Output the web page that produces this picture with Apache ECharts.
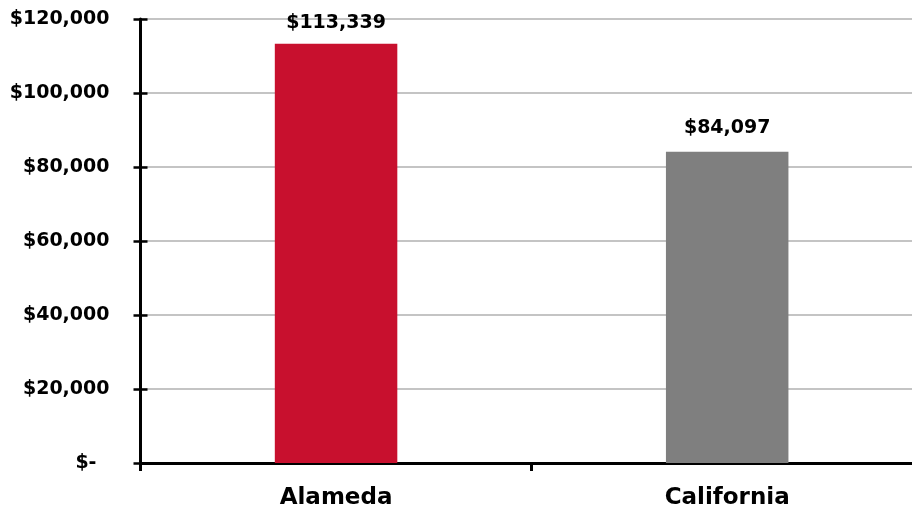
<!DOCTYPE html>
<html>
<head>
<meta charset="utf-8">
<script src="https://cdn.jsdelivr.net/npm/echarts@6/dist/echarts.min.js"></script>
<style>
  html, body { margin: 0; padding: 0; background: #ffffff; overflow: hidden; }
  /* the plot runs slightly past the right edge of the window */
  #chart { width: 923px; height: 513px; }
</style>
</head>
<body>
<div id="chart"></div>
<script>
// Median household income by area
const categories = ['Alameda', 'California'];
const incomeValues = [113339, 84097];
const barColors = ['#C8102E', '#7F7F7F'];
const labelGaps = [11, 14];

const yMin = 0;
const yMax = 120000;
const yStep = 20000;

const fontFamily = '"DejaVu Sans", "Liberation Sans", sans-serif';

function money(v) {
  return '$' + v.toLocaleString('en-US');
}

const chart = echarts.init(document.getElementById('chart'), null, { renderer: 'canvas' });

const barData = incomeValues.map((v, i) => ({
  value: v,
  itemStyle: { color: barColors[i] },
  label: { distance: labelGaps[i] }
}));

chart.setOption({
  backgroundColor: '#ffffff',
  animation: false,
  grid: { left: 140.5, right: 0.25, top: 19, bottom: 50, containLabel: false },
  xAxis: {
    type: 'category',
    data: categories,
    boundaryGap: true,
    axisLine: { show: true, lineStyle: { color: '#000000', width: 3 } },
    axisTick: { show: true, length: 8, lineStyle: { color: '#000000', width: 3 } },
    axisLabel: {
      margin: 24,
      color: '#000000',
      fontFamily: fontFamily,
      fontWeight: 'bold',
      fontSize: 23
    },
    splitLine: { show: false }
  },
  yAxis: [
    {
      type: 'value',
      min: yMin,
      max: yMax,
      interval: yStep,
      axisLine: { show: true, lineStyle: { color: '#000000', width: 3 } },
      axisTick: { show: true, inside: false, length: 7, lineStyle: { color: '#000000', width: 2.5 } },
      axisLabel: {
        margin: 31,
        color: '#000000',
        fontFamily: fontFamily,
        fontWeight: 'bold',
        fontSize: 19,
        formatter: v => (v === 0 ? '{z|$-}' : money(v)),
        rich: {
          z: {
            color: '#000000',
            fontFamily: fontFamily,
            fontWeight: 'bold',
            fontSize: 19,
            padding: [0, 13, 0, 0]
          }
        }
      },
      splitLine: { show: true, lineStyle: { color: '#B0B0B0', width: 1.5 } }
    },
    {
      // inner half of the crossing tick marks
      type: 'value',
      position: 'left',
      min: yMin,
      max: yMax,
      interval: yStep,
      axisLine: { show: false },
      axisTick: { show: true, inside: true, length: 7, lineStyle: { color: '#000000', width: 2.5 } },
      axisLabel: { show: false },
      splitLine: { show: false }
    }
  ],
  series: [
    {
      type: 'bar',
      yAxisIndex: 0,
      data: barData,
      barWidth: 122.5,
      z: 3,
      label: {
        show: true,
        position: 'top',
        color: '#000000',
        fontFamily: fontFamily,
        fontWeight: 'bold',
        fontSize: 19,
        formatter: p => money(p.value)
      }
    }
  ]
});
</script>
</body>
</html>
